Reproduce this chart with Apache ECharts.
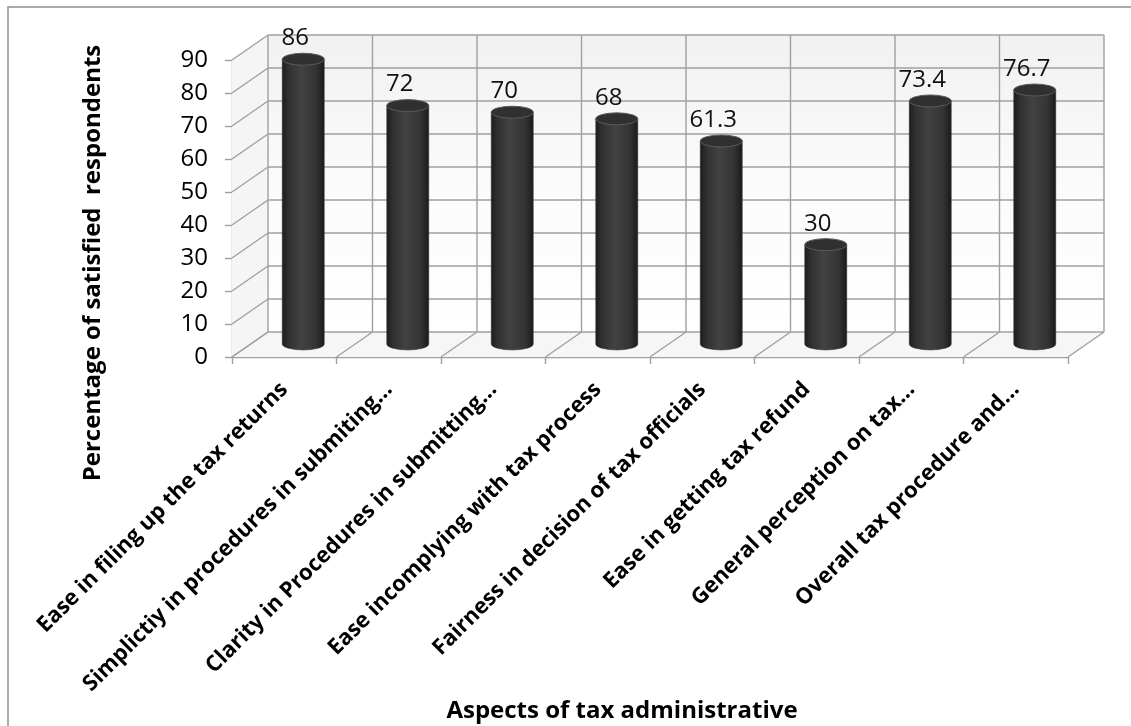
<!DOCTYPE html>
<html>
<head>
<meta charset="utf-8">
<script src="https://cdn.jsdelivr.net/npm/echarts@6/dist/echarts.min.js"></script>
<style>
  html, body { margin: 0; padding: 0; background: #ffffff; }
  #chart { width: 1131px; height: 726px; }
</style>
</head>
<body>
<div id="chart"></div>
<script>
// ---- data ----
const categories = [
  'Ease in filing up the tax returns',
  'Simplictiy in procedures in submiting...',
  'Clarity in Procedures in submitting...',
  'Ease incomplying with tax process',
  'Fairness in decision of tax officials',
  'Ease in getting tax refund',
  'General perception on tax...',
  'Overall tax procedure and...'
];
const values = [86, 72, 70, 68, 61.3, 30, 73.4, 76.7];
const yTicks = [0, 10, 20, 30, 40, 50, 60, 70, 80, 90];
const yAxisTitle = 'Percentage of satisfied  respondents';
const xAxisTitle = 'Aspects of tax administrative';

// ---- style / layout constants ----
const DX = 36, DY = -25;          // depth offset of back wall
const LINE = '#a0a0a0';
const FONT = '"Open Sans", "Liberation Sans", sans-serif';

const chart = echarts.init(document.getElementById('chart'));

function wallItem(params, api) {
  const cs = params.coordSys;
  const v = api.value(1);
  const p = api.coord([0, v]);
  const y = p[1];
  const x0 = cs.x, x1 = cs.x + cs.width;
  const children = [];
  if (params.dataIndex === 0) {
    const top = api.coord([0, yTicks[yTicks.length - 1]])[1];
    children.push({
      type: 'polygon', z2: -10,
      shape: { points: [[x0, y], [x0 + DX, y + DY], [x0 + DX, top + DY], [x0, top]] },
      style: { fill: '#f5f5f5' }
    });
    children.push({
      type: 'rect', z2: -10,
      shape: { x: x0 + DX, y: top + DY, width: x1 - x0, height: y - top },
      style: {
        fill: new echarts.graphic.LinearGradient(0, 0, 0, 1, [
          { offset: 0, color: '#f1f1f1' }, { offset: 0.5, color: '#fbfbfb' }, { offset: 1, color: '#ffffff' }
        ])
      }
    });
    children.push({
      type: 'polygon', z2: -10,
      shape: { points: [[x0, y], [x1, y], [x1 + DX, y + DY], [x0 + DX, y + DY]] },
      style: { fill: '#f6f6f6' }
    });
  }
  children.push({
    type: 'line',
    shape: { x1: x0, y1: y, x2: x0 + DX, y2: y + DY },
    style: { stroke: LINE, lineWidth: 1.4 }
  });
  children.push({
    type: 'line',
    shape: { x1: x0 + DX, y1: y + DY, x2: x1 + DX, y2: y + DY },
    style: { stroke: LINE, lineWidth: 1.4 }
  });
  return { type: 'group', children: children };
}

function floorItem(params, api) {
  const i = api.value(0);
  const c0 = api.coord([i, 0]);
  const bw = api.size([1, 0])[0];
  const yTop = api.coord([i, yTicks[yTicks.length - 1]])[1];
  const y0 = c0[1];
  const xs = [c0[0] - bw / 2];
  if (i === categories.length - 1) xs.push(c0[0] + bw / 2);
  const children = [];
  xs.forEach(function (xb) {
    children.push({
      type: 'line',
      shape: { x1: xb, y1: y0, x2: xb + DX, y2: y0 + DY },
      style: { stroke: LINE, lineWidth: 1.4 }
    });
    children.push({
      type: 'line',
      shape: { x1: xb + DX, y1: y0 + DY, x2: xb + DX, y2: yTop + DY },
      style: { stroke: LINE, lineWidth: 1.4 }
    });
  });
  return { type: 'group', children: children };
}

function cylinderItem(params, api) {
  const i = api.value(0);
  const v = api.value(1);
  const t = api.coord([i, v]);
  const b = api.coord([i, 0]);
  const cx = t[0], top = t[1], base = b[1];
  const rx = 21, ry = 6;
  const body = 'M' + (cx - rx) + ' ' + top +
    ' L' + (cx - rx) + ' ' + base +
    ' A' + rx + ' ' + ry + ' 0 0 0 ' + (cx + rx) + ' ' + base +
    ' L' + (cx + rx) + ' ' + top + ' Z';
  const cap = 'M' + (cx - rx) + ' ' + top +
    ' A' + rx + ' ' + ry + ' 0 1 0 ' + (cx + rx) + ' ' + top +
    ' A' + rx + ' ' + ry + ' 0 1 0 ' + (cx - rx) + ' ' + top + ' Z';
  return {
    type: 'group',
    children: [
      {
        type: 'path',
        shape: { pathData: body },
        style: {
          fill: new echarts.graphic.LinearGradient(0, 0, 1, 0, [
            { offset: 0, color: '#1c1c1c' },
            { offset: 0.15, color: '#303030' },
            { offset: 0.45, color: '#424242' },
            { offset: 0.8, color: '#343434' },
            { offset: 1, color: '#1a1a1a' }
          ]),
          stroke: '#2a2a2a', lineWidth: 0.5
        }
      },
      {
        type: 'path',
        shape: { pathData: cap },
        style: { fill: '#303030', stroke: '#5a5a5a', lineWidth: 1 }
      },
      {
        type: 'text',
        style: {
          x: cx - 8, y: top - 21,
          text: String(v),
          font: '24px ' + FONT,
          fill: '#111',
          align: 'center', verticalAlign: 'middle'
        }
      }
    ]
  };
}

const option = {
  backgroundColor: '#ffffff',
  animation: false,
  grid: [
    { left: 232, right: 63, top: 60, bottom: 369 },   // front plane (axes)
    { left: 251, right: 44, top: 46, bottom: 382 }    // mid-depth plane (cylinders)
  ],
  xAxis: [
    {
      gridIndex: 0, type: 'category', data: categories, boundaryGap: true,
      axisLine: { show: true, lineStyle: { color: LINE, width: 1.4 } },
      axisTick: { show: true, length: 7, lineStyle: { color: LINE, width: 1.4 } },
      axisLabel: {
        interval: 0, rotate: 45, margin: 29,
        color: '#000', fontFamily: FONT, fontWeight: 'bold', fontSize: 22
      },
      splitLine: { show: false }
    },
    {
      gridIndex: 1, type: 'category', data: categories, boundaryGap: true,
      show: false
    }
  ],
  yAxis: [
    {
      gridIndex: 0, type: 'value', min: 0, max: 90, interval: 10,
      axisLine: { show: true, lineStyle: { color: LINE, width: 1.4 } },
      axisTick: { show: true, length: 7, lineStyle: { color: LINE, width: 1.4 } },
      axisLabel: { color: '#000', fontFamily: FONT, fontSize: 24, margin: 24 },
      splitLine: { show: false }
    },
    {
      gridIndex: 1, type: 'value', min: 0, max: 90, interval: 10, show: false
    }
  ],
  graphic: [
    {
      type: 'rect', silent: true, z: -1,
      shape: { x: 8, y: 7, width: 1200, height: 800 },
      style: { fill: 'none', stroke: '#8e8e8e', lineWidth: 1.5 }
    },
    {
      type: 'text', x: 93, y: 263, rotation: Math.PI / 2,
      style: {
        text: yAxisTitle, font: 'bold 24px ' + FONT, fill: '#000',
        align: 'center', verticalAlign: 'middle'
      }
    },
    {
      type: 'text', x: 622, y: 711,
      style: {
        text: xAxisTitle, font: 'bold 24px ' + FONT, fill: '#000',
        align: 'center', verticalAlign: 'middle'
      }
    }
  ],
  series: [
    {
      type: 'custom', name: 'walls', xAxisIndex: 0, yAxisIndex: 0, z: 1, silent: true,
      renderItem: wallItem, clip: false,
      data: yTicks.map(function (v) { return [0, v]; })
    },
    {
      type: 'custom', name: 'floor', xAxisIndex: 0, yAxisIndex: 0, z: 1, silent: true,
      renderItem: floorItem, clip: false,
      data: categories.map(function (c, i) { return [i, 0]; })
    },
    {
      type: 'custom', name: 'satisfied', xAxisIndex: 1, yAxisIndex: 1, z: 5,
      renderItem: cylinderItem, clip: false,
      data: values.map(function (v, i) { return [i, v]; })
    }
  ]
};
chart.setOption(option);
</script>
</body>
</html>
